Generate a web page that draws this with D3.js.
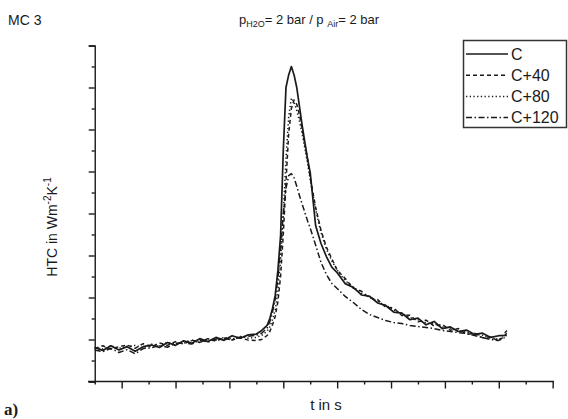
<!DOCTYPE html>
<html>
<head>
<meta charset="utf-8">
<script src="https://cdn.jsdelivr.net/npm/d3@7"></script>
<style>
  html, body { margin: 0; padding: 0; background: #fff; }
  svg { display: block; font-family: "Liberation Sans", Arial, sans-serif; }
</style>
</head>
<body>
<svg id="chart" width="568" height="419"></svg>
<script>
// Time samples (s) shared by all four runs
const times = [
  -10, -7, -4, -1, 2, 5, 8, 11, 14, 17, 20, 23, 26, 29, 32, 35, 38, 41, 44, 47, 50,
  52, 54, 55, 56, 57, 58, 59, 60, 61, 62, 63, 64, 65, 66, 67, 68, 69, 70,
  72, 74, 76, 78, 80, 83, 86, 89, 92, 95, 98, 101, 104, 107, 110, 113, 116, 119, 122, 125, 128, 131, 134, 137, 140, 143
];

// Heat transfer coefficient, one array per run
const htcC = [
  1.62, 1.48, 1.70, 1.50, 1.66, 1.44, 1.66, 1.74, 1.62, 1.86, 1.72, 1.94, 1.82, 2.04, 1.90, 2.10, 1.96, 2.18, 2.06, 2.22, 2.26,
  2.43, 2.67, 3.00, 3.48, 4.10, 5.29, 6.95, 11.0, 14.0, 14.6, 15.0, 14.6, 14.0, 13.1, 12.2, 11.4, 10.6, 9.95,
  7.43, 6.57, 5.95, 5.45, 5.18, 4.66, 4.48, 4.12, 4.06, 3.74, 3.62, 3.30, 3.26, 2.94, 3.02, 2.70, 2.86, 2.52, 2.60, 2.38, 2.45, 2.24, 2.30, 2.10, 2.18, 2.19
];
const htcC40 = [
  1.57, 1.70, 1.54, 1.66, 1.74, 1.58, 1.80, 1.64, 1.84, 1.72, 1.90, 1.78, 1.98, 1.86, 2.04, 1.92, 2.08, 1.98, 2.08, 1.97, 1.95,
  2.00, 2.19, 2.38, 2.70, 3.10, 3.80, 5.00, 7.00, 9.50, 11.8, 13.0, 13.4, 13.2, 12.7, 12.0, 11.3, 10.6, 9.70,
  8.30, 7.20, 6.40, 5.85, 5.30, 4.90, 4.44, 4.30, 3.98, 3.90, 3.54, 3.50, 3.14, 3.16, 2.84, 2.92, 2.64, 2.72, 2.44, 2.52, 2.24, 2.30, 2.08, 2.12, 1.92, 2.30
];
const htcC80 = [
  1.62, 1.55, 1.70, 1.58, 1.68, 1.72, 1.60, 1.78, 1.70, 1.86, 1.78, 1.90, 1.94, 1.86, 2.04, 1.96, 2.10, 2.02, 2.14, 2.06, 2.10,
  2.20, 2.40, 2.60, 2.95, 3.40, 4.30, 5.80, 8.00, 10.6, 12.6, 13.5, 13.3, 12.9, 12.4, 11.8, 11.1, 10.4, 9.60,
  8.20, 7.10, 6.30, 5.75, 5.30, 4.80, 4.50, 4.20, 4.04, 3.80, 3.64, 3.40, 3.26, 3.04, 2.94, 2.78, 2.76, 2.60, 2.54, 2.40, 2.36, 2.24, 2.20, 2.06, 2.02, 2.10
];
const htcC120 = [
  1.50, 1.42, 1.58, 1.38, 1.52, 1.32, 1.57, 1.60, 1.72, 1.63, 1.82, 1.85, 1.78, 1.96, 1.88, 2.02, 2.06, 1.98, 2.12, 2.15, 2.20,
  2.30, 2.55, 2.85, 3.30, 3.90, 4.90, 6.30, 8.00, 9.20, 9.80, 9.90, 9.70, 9.30, 8.86, 8.45, 8.05, 7.65, 7.30,
  6.50, 5.67, 5.10, 4.67, 4.43, 4.05, 3.76, 3.43, 3.19, 3.05, 2.90, 2.81, 2.76, 2.67, 2.62, 2.57, 2.52, 2.43, 2.38, 2.33, 2.29, 2.19, 2.10, 2.00, 1.95, 2.43
];

const seriesNames = ["C", "C+40", "C+80", "C+120"];
const seriesValues = [htcC, htcC40, htcC80, htcC120];
const seriesDash = [null, "4,3", "1.3,2.4", "6,2.5,1.5,2.5"];

// Unlabelled tick positions
const xMajorTicks = [0, 20, 40, 60, 80, 100, 120, 140, 160];
const xMinorTicks = [-10, 10, 30, 50, 70, 90, 110, 130, 150];
const yMajorTicks = [0, 2, 4, 6, 8, 10, 12, 14, 16];
const yMinorTicks = [1, 3, 5, 7, 9, 11, 13, 15];

const svg = d3.select("#chart");
const ink = "#1a1a1a";

const x = d3.scaleLinear().domain([-12.5, 160.5]).range([88, 554]);
const y = d3.scaleLinear().domain([0, 16]).range([381.5, 45.5]);
const yAxisX = x(-10);

// Axes: unlabelled, outward ticks
const yMajor = d3.axisLeft(y).tickValues(yMajorTicks).tickSize(6).tickFormat("");
const yMinor = d3.axisLeft(y).tickValues(yMinorTicks).tickSize(3).tickFormat("");
const xMajor = d3.axisBottom(x).tickValues(xMajorTicks).tickSize(7).tickFormat("");
const xMinor = d3.axisBottom(x).tickValues(xMinorTicks).tickSize(3).tickFormat("");

function styleAxis(g) {
  g.selectAll("path, line").attr("stroke", ink).attr("stroke-width", 1.4);
}

svg.append("g").attr("transform", `translate(${yAxisX},0)`).call(yMajor).call(styleAxis);
svg.append("g").attr("transform", `translate(${yAxisX},0)`).call(yMinor).call(styleAxis)
  .select(".domain").remove();
svg.append("g").attr("transform", `translate(0,${y(0)})`).call(xMajor).call(styleAxis)
  .select(".domain").remove();
svg.append("g").attr("transform", `translate(0,${y(0)})`).call(xMinor).call(styleAxis)
  .select(".domain").remove();
// bottom axis line runs a little left of the vertical axis
svg.append("line")
  .attr("x1", x.range()[0]).attr("x2", x.range()[1])
  .attr("y1", y(0)).attr("y2", y(0))
  .attr("stroke", ink).attr("stroke-width", 1.4);

// Curves
const line = d3.line()
  .x((d, i) => x(times[i]))
  .y(d => y(d))
  .curve(d3.curveLinear);

seriesValues.forEach((vals, k) => {
  svg.append("path")
    .datum(vals)
    .attr("d", line)
    .attr("fill", "none")
    .attr("stroke", ink)
    .attr("stroke-width", k === 0 ? 1.7 : 1.5)
    .attr("stroke-linejoin", "round")
    .attr("stroke-dasharray", seriesDash[k]);
});

// Legend
const legend = svg.append("g");
legend.append("rect")
  .attr("x", 463.5).attr("y", 40.5).attr("width", 103).attr("height", 87)
  .attr("fill", "#fff").attr("stroke", "#333").attr("stroke-width", 1.5);
seriesNames.forEach((name, k) => {
  const ry = 54 + k * 21.2;
  legend.append("line")
    .attr("x1", 466).attr("x2", 508).attr("y1", ry).attr("y2", ry)
    .attr("stroke", ink).attr("stroke-width", 1.5)
    .attr("stroke-dasharray", seriesDash[k]);
  legend.append("text")
    .attr("x", 511).attr("y", ry + 5.5)
    .attr("font-size", 16).attr("fill", ink)
    .text(name);
});

// Header texts
svg.append("text").attr("x", 8).attr("y", 25)
  .attr("font-size", 14).attr("fill", ink).text("MC 3");

const title = svg.append("text").attr("x", 309).attr("y", 24)
  .attr("text-anchor", "middle").attr("font-size", 13).attr("fill", ink);
title.append("tspan").text("p");
title.append("tspan").attr("font-size", 9).attr("dy", 3).text("H2O");
title.append("tspan").attr("dy", -3).text("= 2 bar / p ");
title.append("tspan").attr("font-size", 9).attr("dy", 3).text("Air");
title.append("tspan").attr("dy", -3).text("= 2 bar");

// Axis titles
const yTitle = svg.append("text")
  .attr("transform", "translate(57,227) rotate(-90)")
  .attr("text-anchor", "middle").attr("font-size", 14).attr("fill", ink);
yTitle.append("tspan").text("HTC in Wm");
yTitle.append("tspan").attr("font-size", 10).attr("dy", -6).text("-2");
yTitle.append("tspan").attr("dy", 6).text("K");
yTitle.append("tspan").attr("font-size", 10).attr("dy", -6).text("-1");

svg.append("text").attr("x", 326).attr("y", 410)
  .attr("text-anchor", "middle").attr("font-size", 15).attr("fill", ink)
  .text("t in s");

svg.append("text").attr("x", 4).attr("y", 415)
  .attr("font-family", "'Liberation Serif', serif").attr("font-weight", "bold")
  .attr("font-size", 17).attr("fill", ink)
  .text("a)");
</script>
</body>
</html>
